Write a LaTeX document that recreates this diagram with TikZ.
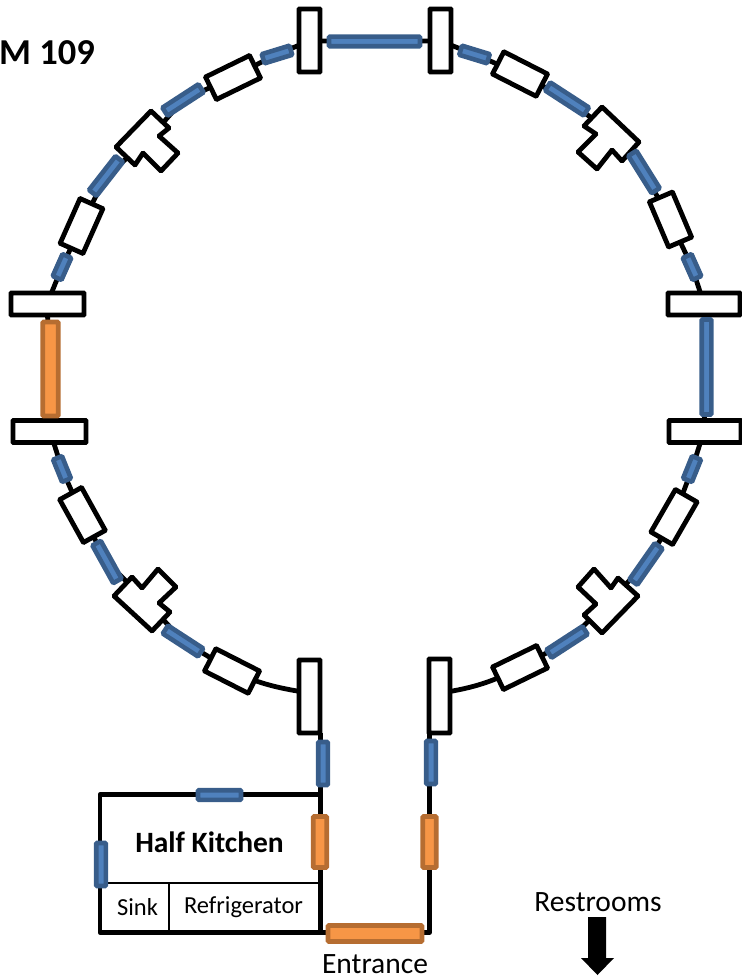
\documentclass[tikz,border=0pt]{standalone}
\usepackage{fontspec}
\setmainfont{Carlito}
\usetikzlibrary{positioning, backgrounds}
\definecolor{winblue}{HTML}{4F81BD}
\definecolor{winblueline}{HTML}{385D8A}
\definecolor{winorange}{HTML}{F79646}
\definecolor{winorangeline}{HTML}{B66D31}
\tikzset{
    wall/.style={line width=4.8pt, line join=round},
    thinwall/.style={line width=1.8pt},
    roombox/.style={draw, line width=4.8pt, fill=white, rounded corners=0.6pt, inner sep=0pt, outer sep=0pt},
    bluewin/.style={draw=winblueline, fill=winblue, line width=4.6pt, rounded corners=1pt, inner sep=0pt, outer sep=0pt},
    orangewin/.style={draw=winorangeline, fill=winorange, line width=4.8pt, rounded corners=1pt, inner sep=0pt, outer sep=0pt},
    label/.style={inner sep=0pt}
}
\begin{document}
\begin{tikzpicture}[x=1pt, y=-1pt]
    \useasboundingbox (0,0) rectangle (741,979);
    % walls go behind everything
    \draw[wall] (62,267) -- (47,304) (47,304) -- (50,369) -- (50,431) -- (62,469) -- (82,515);
    \draw[wall] (82,515) -- (107,562) -- (145,600) -- (183,641) -- (232,671) .. controls (255,682) and (275,688) .. (310,693);
    \draw[wall] (62,267) -- (81,226) -- (106,176) -- (147,141) -- (183,100) -- (233,77) -- (277,54) -- (310,41) -- (440,41);
    \draw[wall] (440,41) -- (474,54) -- (520,74) -- (567,99) -- (612,134) -- (644,172) -- (670,220) -- (692,267) -- (704,304);
    \draw[wall] (704,304) -- (706,367) -- (704,431) -- (692,469) -- (674,517) -- (646,564) -- (610,600) -- (567,642) -- (520,667);
    \draw[wall] (520,667) .. controls (497,680) and (475,688) .. (440,693);
    \draw[wall] (320.5,733) -- (320.5,932.5) -- (100,932.5) -- (100,794.5) -- (320.5,794.5);
    \draw[wall] (320.5,932.5) -- (429.5,932.5) -- (429.5,733);
    \draw[thinwall] (100,883) -- (320,883);
    \draw[thinwall] (169,883) -- (169,932);
    % pillars at the ends of each stretch
    \foreach \boxname/\x/\y/\w/\h in {boxA/309.5/40.5/21/63, boxB/440.5/40.5/21/63,
        boxC/47.5/304/73/22, boxD/49.5/431.5/73/22, boxE/704/304/72/22, boxF/705/431.5/72/22,
        boxG/309.5/696.5/21/73, boxH/439.5/696/21/74}
    {
    \node[roombox, minimum width=\w pt, minimum height=\h pt] (\boxname) at (\x,\y) {};
    }
    % tilted boxes, the rotation is read anticlockwise
    \foreach \boxname/\x/\y/\w/\h/\a in {tiltA/233/77.5/49/25/26, tiltB/81.5/226/49/25/66,
        tiltC/520/74/49/25/-27, tiltD/670.5/219.5/49/25/-67,
        tiltE/82.5/515/49/25/-61, tiltF/232/671/49/25/-27,
        tiltG/674/517/49/25/60, tiltH/520/667.5/49/25/26}
    {
    \node[roombox, minimum width=\w pt, minimum height=\h pt, rotate=\a] (\boxname) at (\x,\y) {};
    }
    % the four t shaped bays
    \draw[roombox] (151,111) -- (169,128) -- (159,136) -- (178,153) -- (161,171) -- (143,153) -- (135,165) -- (116,147) -- cycle;
    \draw[roombox] (602,107) -- (639,142) -- (622,161) -- (612,150) -- (597,169) -- (578,152) -- (596,134) -- (584,126) -- cycle;
    \draw[roombox] (114,596) -- (132,577) -- (142,588) -- (158,569) -- (176,587) -- (159,603) -- (170,612) -- (152,631) -- cycle;
    \draw[roombox] (594,569) -- (611,588) -- (618,578) -- (638,596) -- (602,633) -- (584,615) -- (596,604) -- (578,587) -- cycle;
    % windows
    \foreach \winname/\x/\y/\l/\a in {winA/374.5/41.5/91/0, winB/277/54.5/29/17, winC/183/100/43/33,
        winD/106/176/43/52, winE/62/267/24/66, winF/474.5/54.5/29/-17, winG/567/99/46/-33,
        winH/644/172/44/-58, winI/692/267/24/-66, winJ/706.5/367/95/90, winK/62/469/24/-68,
        winL/107/562/43/-61, winM/183/641/42/-33, winN/692/469/24/68, winO/646/564/44/55,
        winP/567/642/43/33, winQ/323/763.5/43/90, winR/431/762.5/43/90, winS/219.5/795/43/0,
        winT/101/864.5/43/90}
    {
    \node[bluewin, minimum width=\l pt, minimum height=9.6pt, rotate=\a] (\winname) at (\x,\y) {};
    }
    \foreach \winname/\x/\y/\l/\h/\a in {doorA/50.5/369/94/15.5/90, doorB/320/842/51/13.5/90,
        doorC/429.5/842/51/13.5/90, doorD/375/933.5/94/16/0}
    {
    \node[orangewin, minimum width=\l pt, minimum height=\h pt, rotate=\a] (\winname) at (\x,\y) {};
    }
    % texts
    \node[label, font=\fontsize{36.5}{36.5}\selectfont\bfseries, anchor=east] (room) at (95,53) {M 109};
    \node[label, font=\fontsize{29.5}{29.5}\selectfont\bfseries] (kitchen) at (209.5,842) {Half Kitchen};
    \node[label, font=\fontsize{24.5}{24.5}\selectfont] (sink) at (137.5,907) {Sink};
    \node[label, font=\fontsize{24.5}{24.5}\selectfont] (fridge) at (243.5,907) {Refrigerator};
    \node[label, font=\fontsize{29.5}{29.5}\selectfont] (entrance) at (375,964) {Entrance};
    \node[label, font=\fontsize{29.5}{29.5}\selectfont] (restrooms) at (598,902) {Restrooms};
    \fill (588,917) -- (606,917) -- (606,958) -- (614,958) -- (597.5,975) -- (581,958) -- (588,958) -- cycle;
\end{tikzpicture}
\end{document}
